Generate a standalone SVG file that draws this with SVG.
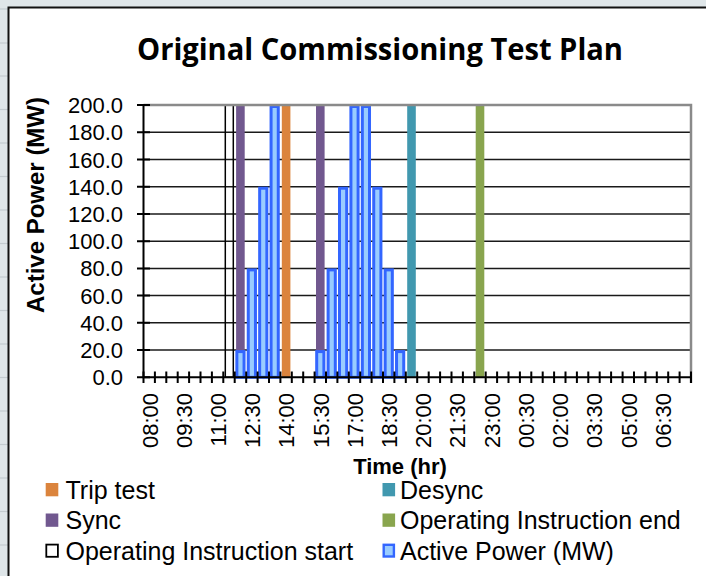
<svg xmlns="http://www.w3.org/2000/svg" width="706" height="576" viewBox="0 0 706 576">
<style>
.sheet{fill:#dfe6e9}
.cell{stroke:#c4ccd0;stroke-width:1.2}
.grid{stroke:#1a1a1a;stroke-width:1.5}
.axis{stroke:#000;stroke-width:2;fill:none}
.frame{stroke:#8a8a8a;stroke-width:2.5;fill:none}
.tick{font-family:"Liberation Sans",Arial,sans-serif;font-size:22px;fill:#000}
.leg{font-family:"Liberation Sans",Arial,sans-serif;font-size:25px;fill:#000}
.bold{font-family:"Liberation Sans",Arial,sans-serif;font-weight:bold;fill:#000}
.pw{fill:#99ccff;stroke:#3366ff;stroke-width:3}
.sync{fill:#71588f}
.trip{fill:#db843d}
.desync{fill:#4198af}
.oiend{fill:#89a54e}
.oistart{fill:none;stroke:#000;stroke-width:1.5}
</style>
<rect x="0" y="0" width="706" height="576" class="sheet"/>
<g id="sheet-lines">
<line x1="0" y1="9" x2="8" y2="9" class="cell"/>
<line x1="0" y1="43" x2="8" y2="43" class="cell"/>
<line x1="0" y1="76" x2="8" y2="76" class="cell"/>
<line x1="0" y1="109.5" x2="8" y2="109.5" class="cell"/>
<line x1="0" y1="143" x2="8" y2="143" class="cell"/>
<line x1="0" y1="176.5" x2="8" y2="176.5" class="cell"/>
<line x1="0" y1="210" x2="8" y2="210" class="cell"/>
<line x1="0" y1="243.5" x2="8" y2="243.5" class="cell"/>
<line x1="0" y1="277" x2="8" y2="277" class="cell"/>
<line x1="0" y1="310.5" x2="8" y2="310.5" class="cell"/>
<line x1="0" y1="344" x2="8" y2="344" class="cell"/>
<line x1="0" y1="377.5" x2="8" y2="377.5" class="cell"/>
<line x1="0" y1="411" x2="8" y2="411" class="cell"/>
<line x1="0" y1="444.5" x2="8" y2="444.5" class="cell"/>
<line x1="0" y1="478" x2="8" y2="478" class="cell"/>
<line x1="0" y1="511.5" x2="8" y2="511.5" class="cell"/>
<line x1="0" y1="545" x2="8" y2="545" class="cell"/>
</g>
<g id="chart-area">
<rect x="8.5" y="7.5" width="700" height="572" fill="#fff" stroke="#111" stroke-width="2"/>
</g>
<g id="title">
<text x="137" y="60" font-family="'Open Sans','Liberation Sans',sans-serif" font-weight="bold" font-size="31" textLength="486" lengthAdjust="spacingAndGlyphs">Original Commissioning Test Plan</text>
</g>
<g id="gridlines">
<line x1="143.5" y1="350.1" x2="691" y2="350.1" class="grid"/>
<line x1="143.5" y1="322.8" x2="691" y2="322.8" class="grid"/>
<line x1="143.5" y1="295.6" x2="691" y2="295.6" class="grid"/>
<line x1="143.5" y1="268.4" x2="691" y2="268.4" class="grid"/>
<line x1="143.5" y1="241.2" x2="691" y2="241.2" class="grid"/>
<line x1="143.5" y1="213.9" x2="691" y2="213.9" class="grid"/>
<line x1="143.5" y1="186.7" x2="691" y2="186.7" class="grid"/>
<line x1="143.5" y1="159.5" x2="691" y2="159.5" class="grid"/>
<line x1="143.5" y1="132.2" x2="691" y2="132.2" class="grid"/>
</g>
<g id="series-oi-start"><rect x="225.3" y="105" width="8" height="272.3" class="oistart"/></g>
<g id="series-sync">
<rect x="236.1" y="105" width="8.6" height="272.3" class="sync"/>
<rect x="316" y="105" width="8.6" height="272.3" class="sync"/>
</g>
<g id="series-trip"><rect x="281.8" y="105" width="8.6" height="272.3" class="trip"/></g>
<g id="series-desync"><rect x="407.2" y="105" width="8.6" height="272.3" class="desync"/></g>
<g id="series-oi-end"><rect x="475.7" y="105" width="8.6" height="272.3" class="oiend"/></g>
<g id="series-power">
<rect x="236.85" y="351.6" width="7.2" height="25.7" class="pw"/>
<rect x="248.25" y="269.9" width="7.2" height="107.4" class="pw"/>
<rect x="259.66" y="188.2" width="7.2" height="189.1" class="pw"/>
<rect x="271.07" y="106.5" width="7.2" height="270.8" class="pw"/>
<rect x="316.69" y="351.6" width="7.2" height="25.7" class="pw"/>
<rect x="328.1" y="269.9" width="7.2" height="107.4" class="pw"/>
<rect x="339.5" y="188.2" width="7.2" height="189.1" class="pw"/>
<rect x="350.91" y="106.5" width="7.2" height="270.8" class="pw"/>
<rect x="362.31" y="106.5" width="7.2" height="270.8" class="pw"/>
<rect x="373.72" y="188.2" width="7.2" height="189.1" class="pw"/>
<rect x="385.13" y="269.9" width="7.2" height="107.4" class="pw"/>
<rect x="396.53" y="351.6" width="7.2" height="25.7" class="pw"/>
</g>
<g id="plot-frame">
<path d="M143.5 105 H691 V383" class="frame"/>
</g>
<g id="axes">
<path d="M143.5 104 V377.3 H691" class="axis"/>
<path class="axis" d="M137 105H150M137 132.2H150M137 159.5H150M137 186.7H150M137 213.9H150M137 241.2H150M137 268.4H150M137 295.6H150M137 322.8H150M137 350.1H150M137 377.3H150"/>
<path class="axis" d="M143.5 371.5V383M154.9 371.5V383M166.3 371.5V383M177.7 371.5V383M189.1 371.5V383M200.5 371.5V383M211.9 371.5V383M223.3 371.5V383M234.7 371.5V383M246.2 371.5V383M257.6 371.5V383M269 371.5V383M280.4 371.5V383M291.8 371.5V383M303.2 371.5V383M314.6 371.5V383M326 371.5V383M337.4 371.5V383M348.8 371.5V383M360.2 371.5V383M371.6 371.5V383M383 371.5V383M394.4 371.5V383M405.8 371.5V383M417.2 371.5V383M428.7 371.5V383M440.1 371.5V383M451.5 371.5V383M462.9 371.5V383M474.3 371.5V383M485.7 371.5V383M497.1 371.5V383M508.5 371.5V383M519.9 371.5V383M531.3 371.5V383M542.7 371.5V383M554.1 371.5V383M565.5 371.5V383M576.9 371.5V383M588.3 371.5V383M599.7 371.5V383M611.1 371.5V383M622.6 371.5V383M634 371.5V383M645.4 371.5V383M656.8 371.5V383M668.2 371.5V383M679.6 371.5V383M691 371.5V383"/>
</g>
<g id="y-labels" class="tick" text-anchor="end">
<text x="123" y="113">200.0</text>
<text x="123" y="140.2">180.0</text>
<text x="123" y="167.5">160.0</text>
<text x="123" y="194.7">140.0</text>
<text x="123" y="221.9">120.0</text>
<text x="123" y="249.2">100.0</text>
<text x="123" y="276.4">80.0</text>
<text x="123" y="303.6">60.0</text>
<text x="123" y="330.8">40.0</text>
<text x="123" y="358.1">20.0</text>
<text x="123" y="385.3">0.0</text>
</g>
<g id="x-labels" class="tick" text-anchor="end">
<text transform="translate(157.5 393) rotate(-90)">08:00</text>
<text transform="translate(191.72 393) rotate(-90)">09:30</text>
<text transform="translate(225.94 393) rotate(-90)">11:00</text>
<text transform="translate(260.15 393) rotate(-90)">12:30</text>
<text transform="translate(294.37 393) rotate(-90)">14:00</text>
<text transform="translate(328.59 393) rotate(-90)">15:30</text>
<text transform="translate(362.81 393) rotate(-90)">17:00</text>
<text transform="translate(397.03 393) rotate(-90)">18:30</text>
<text transform="translate(431.24 393) rotate(-90)">20:00</text>
<text transform="translate(465.46 393) rotate(-90)">21:30</text>
<text transform="translate(499.68 393) rotate(-90)">23:00</text>
<text transform="translate(533.9 393) rotate(-90)">00:30</text>
<text transform="translate(568.12 393) rotate(-90)">02:00</text>
<text transform="translate(602.33 393) rotate(-90)">03:30</text>
<text transform="translate(636.55 393) rotate(-90)">05:00</text>
<text transform="translate(670.77 393) rotate(-90)">06:30</text>
</g>
<g id="y-title">
<text class="bold" font-size="24" text-anchor="middle" transform="translate(44 205) rotate(-90)">Active Power (MW)</text>
</g>
<g id="x-title">
<text class="bold" font-size="22" text-anchor="middle" x="400" y="474">Time (hr)</text>
</g>
<g id="legend">
<g id="leg-trip"><rect x="45.7" y="483" width="12.6" height="13.3" class="trip"/><text class="leg" x="65.5" y="498.5">Trip test</text></g>
<g id="leg-desync"><rect x="382.5" y="483" width="12.6" height="13.3" class="desync"/><text class="leg" x="400" y="498.5">Desync</text></g>
<g id="leg-sync"><rect x="45.7" y="513.5" width="12.6" height="13.3" class="sync"/><text class="leg" x="65.5" y="529">Sync</text></g>
<g id="leg-oiend"><rect x="382.5" y="513.5" width="12.6" height="13.3" class="oiend"/><text class="leg" x="400" y="529">Operating Instruction end</text></g>
<g id="leg-oistart"><rect x="46.3" y="544.6" width="11.6" height="12.2" fill="#fff" stroke="#000" stroke-width="1.8"/><text class="leg" x="65.5" y="559.7">Operating Instruction start</text></g>
<g id="leg-power"><rect x="383.7" y="544.8" width="10.2" height="11.7" fill="#99ccff" stroke="#3366ff" stroke-width="2.4"/><text class="leg" x="400" y="559.7">Active Power (MW)</text></g>
</g>
</svg>
